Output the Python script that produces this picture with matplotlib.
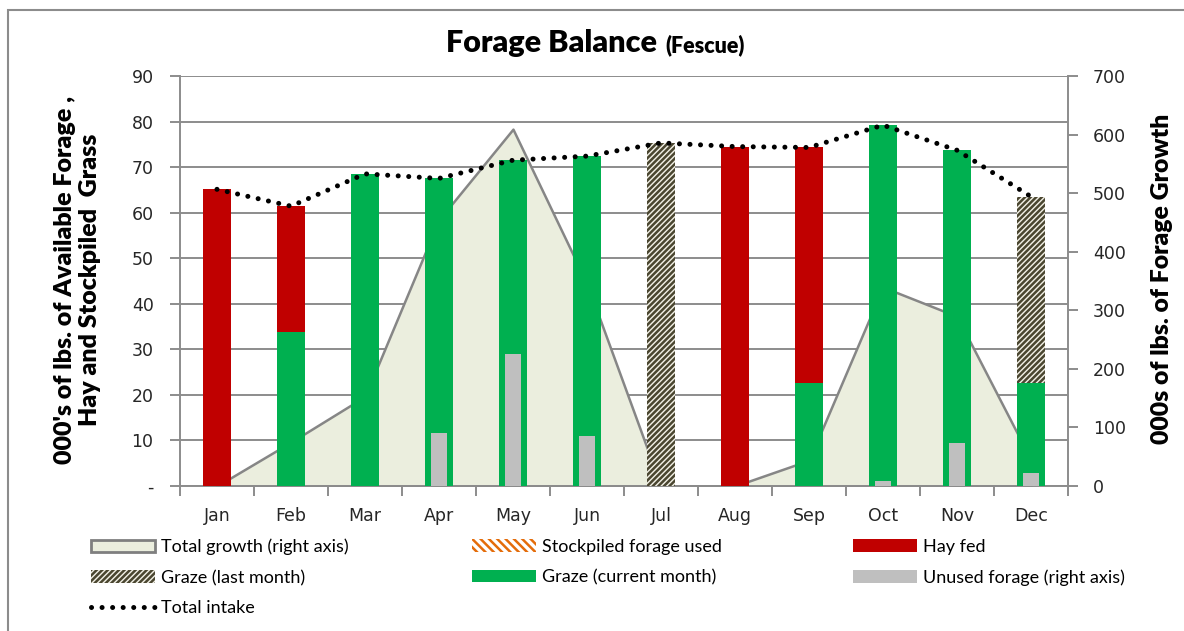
import numpy as np
import matplotlib
matplotlib.use("Agg")
import matplotlib.pyplot as plt
from matplotlib.patches import Patch, Rectangle
from matplotlib.lines import Line2D

# values
months = ['Jan', 'Feb', 'Mar', 'Apr', 'May', 'Jun', 'Jul', 'Aug', 'Sep', 'Oct', 'Nov', 'Dec']
graze_current = [0, 33.9, 68.6, 67.6, 71.6, 72.5, 0, 0, 22.6, 79.3, 73.8, 22.6]
stockpiled_used = [0, 0, 0, 0, 0, 0, 0, 0, 0, 0, 0, 0]
graze_last = [0, 0, 0, 0, 0, 0, 75.4, 0, 0, 0, 0, 41.0]
hay_fed = [65.2, 27.6, 0, 0, 0, 0, 0, 74.6, 51.8, 0, 0, 0]
total_intake = [65.2, 61.5, 68.6, 67.6, 71.6, 72.5, 75.4, 74.6, 74.4, 79.3, 73.8, 63.6]
total_growth = [0, 75, 153, 455, 610, 346, 0, 0, 44, 340, 290, 45]
unused_forage = [0, 0, 0, 90, 226, 86, 0, 0, 0, 8, 74, 22]

left_ticks = [0, 10, 20, 30, 40, 50, 60, 70, 80, 90]
left_ticklabels = ['-', '10', '20', '30', '40', '50', '60', '70', '80', '90']
right_ticks = [0, 100, 200, 300, 400, 500, 600, 700]

RED = '#C00000'
GREEN = '#00B050'
GREY = '#BFBFBF'
AREA = '#EBEEDE'
LINEGREY = '#8C8C8C'
HATCH_DARK = '#4A4630'
ORANGE = '#E46C0A'

plt.rcParams['font.family'] = ['DejaVu Sans']
plt.rcParams['hatch.linewidth'] = 1.8

fig = plt.figure(figsize=(11.84, 6.31), dpi=100)
rect = [0.152, 0.2298, 0.750, 0.649]

# bottom layer: left scale with gridlines
ax = fig.add_axes(rect)
ax.set_zorder(0)
# area of total growth on the right scale
ax2 = ax.twinx()
ax2.set_zorder(1)
ax2.patch.set_visible(False)
# stacked bars on left scale
ax3 = fig.add_axes(rect, sharex=ax)
ax3.set_zorder(2)
ax3.set_axis_off()
# unused forage bars on right scale
ax4 = fig.add_axes(rect, sharex=ax)
ax4.set_zorder(3)
ax4.set_axis_off()

x = np.arange(len(months))

ax.set_xlim(-0.5, 11.5)
ax.set_ylim(0, 90)
ax2.set_ylim(0, 700)
ax3.set_ylim(0, 90)
ax4.set_ylim(0, 700)

ax.yaxis.grid(True, color=LINEGREY, lw=1.4)
for s in ax.spines.values():
    s.set_visible(False)
for name, s in ax2.spines.items():
    s.set_color(LINEGREY)
    s.set_linewidth(1.4)
ax2.spines['top'].set_visible(False)

ax.set_yticks(left_ticks, labels=left_ticklabels)
ax.tick_params(axis='y', direction='out', length=7, width=1.4, color=LINEGREY,
               pad=12, labelsize=12.5, labelcolor='#262626')
ax.set_xticks(np.arange(-0.5, 12, 1), labels=[''] * 13)
ax.set_xticks(x, labels=months, minor=True)
ax.tick_params(axis='x', which='major', direction='out', length=7, width=1.4, color=LINEGREY)
ax.tick_params(axis='x', which='minor', length=0, pad=15, labelsize=12.5, labelcolor='#262626')

ax2.set_yticks(right_ticks)
ax2.tick_params(axis='y', direction='out', length=7, width=1.4, color=LINEGREY,
                pad=11, labelsize=12.5, labelcolor='#262626')

ax2.fill_between(x, 0, total_growth, facecolor=AREA, edgecolor='#868686', lw=1.8)

w = 0.39
bottom = np.zeros(len(months))
ax3.bar(x, graze_current, w, bottom=bottom, color=GREEN, lw=0)
bottom += graze_current
ax3.bar(x, stockpiled_used, w, bottom=bottom, facecolor='white', edgecolor=ORANGE, hatch='\\\\\\\\', lw=0)
bottom += stockpiled_used
ax3.bar(x, graze_last, w, bottom=bottom, facecolor='#F2F0E6', edgecolor=HATCH_DARK, hatch='//////', lw=0)
bottom += graze_last
ax3.bar(x, hay_fed, w, bottom=bottom, color=RED, lw=0)

ax3.plot(x, total_intake, color='black', lw=3.6, linestyle=(0, (0.01, 2.1)),
         dash_capstyle='round', zorder=5, clip_on=False)

ax4.bar(x, unused_forage, 0.21, color=GREY, lw=0)

# titles and axis labels
fig.text(0.555, 0.9176, 'Forage Balance', family='Lato', weight='heavy', fontsize=22,
         ha='right', va='baseline')
fig.text(0.5617, 0.9176, '(Fescue)', family='Lato', weight='heavy', fontsize=15.5,
         ha='left', va='baseline')
fig.text(0.0655, 0.556, "000's of lbs. of Available Forage ,\nHay and Stockpiled  Grass",
         family='Lato', weight='heavy', fontsize=18, rotation=90, ha='center', va='center',
         multialignment='center', linespacing=1.2)
fig.text(0.981, 0.5586, '000s of lbs. of Forage Growth', family='Lato', weight='heavy',
         fontsize=17.8, rotation=90, ha='center', va='center')

# legend in three manually placed columns
h_growth = Patch(facecolor=AREA, edgecolor='#7F7F7F', lw=2, label='Total growth (right axis)')
h_last = Patch(facecolor='#F2F0E6', edgecolor=HATCH_DARK, hatch='//////', lw=0, label='Graze (last month)')
h_intake = Line2D([], [], color='black', lw=3.6, linestyle=(0, (0.01, 2.1)),
                  dash_capstyle='round', label='Total intake')
h_stock = Patch(facecolor='white', edgecolor=ORANGE, hatch='\\\\\\\\', lw=0, label='Stockpiled forage used')
h_cur = Patch(facecolor=GREEN, lw=0, label='Graze (current month)')
h_hay = Patch(facecolor=RED, lw=0, label='Hay fed')
h_unused = Patch(facecolor=GREY, lw=0, label='Unused forage (right axis)')

cols = [([h_growth, h_last, h_intake], 0.0765),
        ([h_stock, h_cur], 0.3986),
        ([h_hay, h_unused], 0.7204)]
for handles, xpos in cols:
    fig.legend(handles=handles, loc='upper left', bbox_to_anchor=(xpos, 0.146),
               frameon=False, borderpad=0, borderaxespad=0, handlelength=3.55,
               handletextpad=0.35, labelspacing=0.8, prop={'family': 'Lato', 'size': 13})

# outer chart border
fig.patches.append(Rectangle((8 / 1184, -0.05), 1.1, 0.984 + 0.05, transform=fig.transFigure,
                             fill=False, edgecolor=LINEGREY, lw=1.5))

fig.savefig('out.png', dpi=100)
